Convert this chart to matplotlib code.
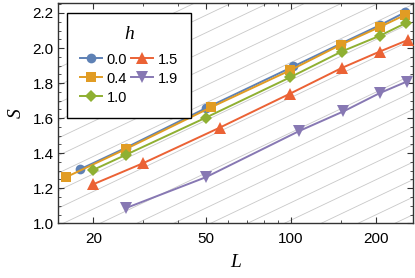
import numpy as np
import matplotlib.pyplot as plt
from matplotlib.ticker import FixedLocator, NullFormatter

# values
h_labels = ['0.0', '0.4', '1.0', '1.5', '1.9']

L_h00 = [18, 26, 50, 102, 150, 206, 254]
S_h00 = [1.309, 1.430, 1.657, 1.895, 2.025, 2.130, 2.205]

L_h04 = [16, 26, 52, 99, 150, 206, 254]
S_h04 = [1.263, 1.423, 1.661, 1.872, 2.019, 2.120, 2.190]

L_h10 = [20, 26, 50, 99, 151, 206, 255]
S_h10 = [1.305, 1.390, 1.603, 1.832, 1.980, 2.070, 2.143]

L_h15 = [20, 30, 56, 99, 151, 206, 260]
S_h15 = [1.223, 1.343, 1.546, 1.739, 1.886, 1.980, 2.047]

L_h19 = [26, 50, 107, 153, 206, 257]
S_h19 = [1.086, 1.263, 1.527, 1.638, 1.743, 1.809]

x_ticks = [20, 50, 100, 200]
x_minor = [30, 40, 60, 70, 80, 90, 150]
y_ticks = [1.0, 1.2, 1.4, 1.6, 1.8, 2.0, 2.2]

series = [
    (L_h00, S_h00, '#5E81B5', 'o', 7),
    (L_h04, S_h04, '#E19C24', 's', 7),
    (L_h10, S_h10, '#8FB032', 'D', 6.5),
    (L_h15, S_h15, '#EB6235', '^', 8.5),
    (L_h19, S_h19, '#8778B3', 'v', 8.5),
]

fig = plt.figure(figsize=(4.15, 2.78), dpi=100)
ax = fig.add_axes([58 / 415, (278 - 223.3) / 278, (413 - 58) / 415, (223.3 - 3) / 278])

# background guide lines, slope ln(L)/3
Lg = np.geomspace(10, 400, 60)
for b in np.arange(-2.017, 1.0, 0.1):
    ax.plot(Lg, np.log(Lg) / 3 + b, color='#c8c8c8', lw=0.6, zorder=0)

for (L, S, col, mk, ms), lab in zip(series, h_labels):
    ax.plot(L, S, color=col, marker=mk, markersize=ms, lw=1.4, label=lab,
            markeredgewidth=0, zorder=3)

ax.set_xscale('log')
ax.set_xlim(15, 270)
ax.set_ylim(1.0, 2.257)

ax.xaxis.set_major_locator(FixedLocator(x_ticks))
ax.xaxis.set_minor_locator(FixedLocator(x_minor))
ax.xaxis.set_minor_formatter(NullFormatter())
ax.set_xticklabels([str(t) for t in x_ticks])
ax.set_yticks(y_ticks)
ax.set_yticks(np.arange(1.0, 2.26, 0.05), minor=True)
ax.set_yticklabels([f'{t:.1f}' for t in y_ticks])

for lab in ax.get_xticklabels() + ax.get_yticklabels():
    lab.set_family('Liberation Sans')

ax.tick_params(which='both', direction='in', top=True, right=True,
               color='#333333', labelsize=11)
ax.tick_params(which='major', length=4.5, width=0.8)
ax.tick_params(which='minor', length=2.5, width=0.6)
ax.tick_params(axis='x', pad=6)
ax.tick_params(axis='y', pad=3)

for sp in ax.spines.values():
    sp.set_color('#333333')
    sp.set_linewidth(1.0)

ax.set_xlabel('L', fontsize=14, family='Liberation Serif', style='italic', labelpad=6)
ax.set_ylabel('S', fontsize=14, family='Liberation Serif', style='italic', labelpad=6)

leg = ax.legend(ncol=2, loc='upper left', bbox_to_anchor=(0.025, 0.955),
                borderaxespad=0, title='h', fancybox=False, framealpha=1,
                edgecolor='black', handlelength=1.5, columnspacing=0.3,
                handletextpad=0.3, labelspacing=0.3, handleheight=1.0,
                borderpad=0.92,
                prop={'family': 'Liberation Sans', 'size': 10.5})
leg.get_title().set_fontproperties({'family': 'Liberation Serif', 'style': 'italic',
                                    'size': 14})
leg.get_frame().set_linewidth(1.0)
leg._legend_box.sep = 6.5  # more room between title and entries

fig.savefig('out.png', dpi=100)
